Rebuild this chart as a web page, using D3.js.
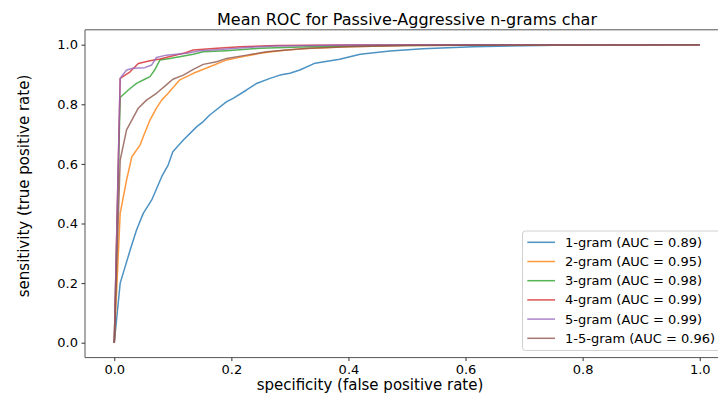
<!DOCTYPE html>
<html>
<head>
<meta charset="utf-8">
<script src="https://cdn.jsdelivr.net/npm/d3@7"></script>
<style>
  html, body { margin: 0; padding: 0; background: #fff; }
  text { font-family: "DejaVu Sans", sans-serif; fill: #000; }
</style>
</head>
<body>
<svg id="chart" width="718" height="394"></svg>
<script>
// ---- data ----
const title = "Mean ROC for Passive-Aggressive n-grams char";
const xLabel = "specificity (false positive rate)";
const yLabel = "sensitivity (true positive rate)";
const xTicks = [0, 0.2, 0.4, 0.6, 0.8, 1.0];
const yTicks = [0, 0.2, 0.4, 0.6, 0.8, 1.0];
const seriesNames = ["1-gram (AUC = 0.89)", "2-gram (AUC = 0.95)", "3-gram (AUC = 0.98)",
                     "4-gram (AUC = 0.99)", "5-gram (AUC = 0.99)", "1-5-gram (AUC = 0.96)"];
const seriesColors = ["#1f77b4", "#ff7f0e", "#2ca02c", "#d62728", "#9467bd", "#8c564b"];

const gram1 = [[0,0],[0.0101,0.20],[0.027,0.31],[0.038,0.378],[0.0495,0.434],[0.064,0.479],[0.081,0.557],
  [0.092,0.596],[0.10,0.641],[0.118,0.68],[0.141,0.725],[0.152,0.742],[0.163,0.764],[0.192,0.809],[0.203,0.82],
  [0.226,0.848],[0.243,0.87],[0.266,0.887],[0.283,0.898],[0.30,0.904],[0.317,0.915],[0.343,0.938],[0.385,0.951],
  [0.42,0.968],[0.471,0.979],[0.527,0.986],[0.613,0.993],[0.698,0.9966],[0.78,0.999],[0.85,1.0],[1,1]];
const gram2 = [[0,0],[0.0101,0.434],[0.021,0.546],[0.030,0.624],[0.044,0.663],[0.0495,0.691],[0.061,0.747],
  [0.072,0.787],[0.081,0.814],[0.092,0.837],[0.112,0.882],[0.135,0.904],[0.163,0.926],[0.192,0.949],[0.22,0.96],
  [0.249,0.971],[0.283,0.98],[0.317,0.986],[0.4,0.993],[0.5,0.997],[0.7,0.999],[1,1]];
const gram3 = [[0,0],[0.0101,0.823],[0.024,0.848],[0.038,0.87],[0.052,0.884],[0.061,0.893],[0.069,0.915],
  [0.078,0.949],[0.095,0.954],[0.135,0.968],[0.152,0.976],[0.192,0.98],[0.249,0.988],[0.334,0.993],[0.45,0.997],
  [0.6,0.999],[1,1]];
const gram4 = [[0,0],[0.0101,0.887],[0.027,0.909],[0.041,0.937],[0.061,0.946],[0.078,0.952],[0.118,0.971],
  [0.135,0.982],[0.175,0.988],[0.215,0.993],[0.277,0.997],[0.4,0.999],[1,1]];
const gram5 = [[0,0],[0.0101,0.887],[0.021,0.915],[0.032,0.921],[0.052,0.923],[0.064,0.932],[0.072,0.957],
  [0.089,0.965],[0.124,0.971],[0.146,0.98],[0.181,0.984],[0.226,0.991],[0.277,0.996],[0.4,0.999],[1,1]];
const gram15 = [[0,0],[0.0101,0.613],[0.021,0.714],[0.030,0.747],[0.041,0.787],[0.055,0.814],[0.072,0.837],
  [0.089,0.865],[0.10,0.884],[0.118,0.898],[0.135,0.917],[0.152,0.934],[0.175,0.943],[0.192,0.954],[0.226,0.965],
  [0.26,0.976],[0.294,0.982],[0.334,0.988],[0.4,0.993],[0.5,0.997],[0.7,0.999],[1,1]];
const seriesData = [gram1, gram2, gram3, gram4, gram5, gram15];

// ---- layout ----
const svg = d3.select("#chart");
svg.append("rect").attr("width", 718).attr("height", 394).attr("fill", "#fff");

const padL = 85, padR = 729, padT = 29.8, padB = 357.6;
const x = d3.scaleLinear().domain([-0.05, 1.05]).range([padL, padR]);
const y = d3.scaleLinear().domain([-0.05, 1.05]).range([padB, padT]);

svg.append("clipPath").attr("id", "clip")
  .append("rect").attr("x", padL).attr("y", padT).attr("width", padR - padL).attr("height", padB - padT);

const line = d3.line().x(d => x(d[0])).y(d => y(d[1]));
const plot = svg.append("g").attr("clip-path", "url(#clip)");
seriesData.forEach((s, i) => {
  plot.append("path").datum(s)
    .attr("d", line)
    .attr("fill", "none")
    .attr("stroke", seriesColors[i])
    .attr("stroke-width", 1.5)
    .attr("stroke-opacity", 0.8)
    .attr("stroke-linejoin", "round");
});

// spines
const spine = "#555";
svg.append("line").attr("x1", padL).attr("x2", padR).attr("y1", padT).attr("y2", padT).attr("stroke", spine).attr("stroke-width", 1);
svg.append("line").attr("x1", padL).attr("x2", padR).attr("y1", padB).attr("y2", padB).attr("stroke", spine).attr("stroke-width", 1);
svg.append("line").attr("x1", padL).attr("x2", padL).attr("y1", padT).attr("y2", padB).attr("stroke", spine).attr("stroke-width", 1);

// axes
const fmt = d3.format(".1f");
const xAxis = svg.append("g").attr("transform", `translate(0,${padB})`)
  .call(d3.axisBottom(x).tickValues(xTicks).tickFormat(fmt).tickSize(3.5).tickPadding(3.5));
const yAxis = svg.append("g").attr("transform", `translate(${padL},0)`)
  .call(d3.axisLeft(y).tickValues(yTicks).tickFormat(fmt).tickSize(3.5).tickPadding(3.5));
[xAxis, yAxis].forEach(a => {
  a.select(".domain").remove();
  a.selectAll(".tick line").attr("stroke", "#333");
  a.selectAll(".tick text").attr("font-family", "DejaVu Sans").attr("font-size", 13).attr("fill", "#000");
});

// title and labels
svg.append("text").attr("x", 407).attr("y", 25).attr("text-anchor", "middle")
  .attr("font-size", 16).text(title);
svg.append("text").attr("x", 370).attr("y", 390).attr("text-anchor", "middle")
  .attr("font-size", 15).text(xLabel);
svg.append("text").attr("transform", "translate(29,186) rotate(-90)").attr("text-anchor", "middle")
  .attr("font-size", 15).text(yLabel);

// legend
const lg = svg.append("g");
lg.append("rect").attr("x", 522.5).attr("y", 231).attr("width", 200).attr("height", 119.5)
  .attr("rx", 3).attr("fill", "#fff").attr("fill-opacity", 0.8).attr("stroke", "#d0d0d0");
seriesNames.forEach((name, i) => {
  const yy = 242.3 + i * 19.2;
  lg.append("line").attr("x1", 527.3).attr("x2", 555).attr("y1", yy).attr("y2", yy)
    .attr("stroke", seriesColors[i]).attr("stroke-width", 1.5).attr("stroke-opacity", 0.8);
  lg.append("text").attr("x", 565).attr("y", yy).attr("dy", "0.35em")
    .attr("font-size", 13).text(name);
});
</script>
</body>
</html>
